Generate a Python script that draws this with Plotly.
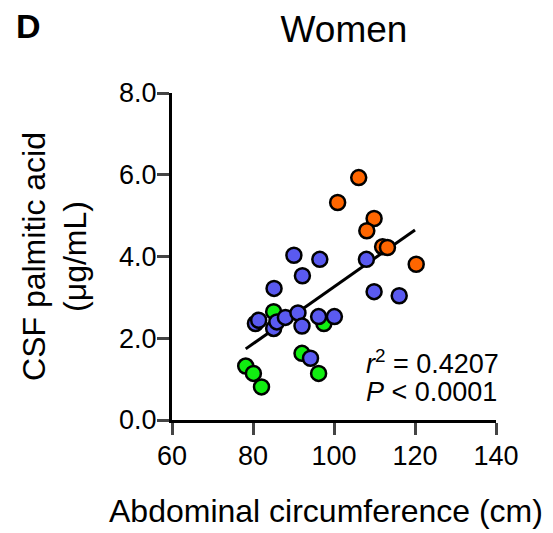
import plotly.graph_objects as go

# abdominal circumference (cm) and CSF palmitic acid (ug/mL), per group
green_x = [78.2, 80.1, 82.1, 85.1, 92.1, 96.2, 97.5]
green_y = [1.32, 1.14, 0.81, 2.65, 1.63, 1.14, 2.36]

blue_x = [80.6, 81.4, 85.1, 85.9, 88.0, 91.1, 92.1, 96.2, 100.1, 94.2,
          85.2, 90.1, 92.2, 96.5, 108.0, 109.9, 116.1]
blue_y = [2.36, 2.44, 2.24, 2.40, 2.51, 2.62, 2.30, 2.53, 2.53, 1.51,
          3.22, 4.03, 3.53, 3.93, 3.93, 3.14, 3.04]

orange_x = [106.1, 100.9, 109.9, 108.1, 112.0, 113.2, 120.3]
orange_y = [5.93, 5.32, 4.93, 4.63, 4.24, 4.22, 3.81]

# regression line end points
fit_x = [78.2, 120.0]
fit_y = [1.74, 4.65]

x_ticks = [60, 80, 100, 120, 140]
y_ticks = [0, 2, 4, 6, 8]

FONT = "Arial, Liberation Sans, sans-serif"
# page body adds 8px at left/top, so the figure is 8px smaller
W, H = 545, 525

fig = go.Figure()
fig.add_trace(go.Scatter(x=fit_x, y=fit_y, mode="lines",
                         line=dict(color="black", width=3)))
for xs, ys, col in [(green_x, green_y, "#11EE11"),
                    (blue_x, blue_y, "#5A5AF0"),
                    (orange_x, orange_y, "#FF6600")]:
    fig.add_trace(go.Scatter(x=xs, y=ys, mode="markers",
                             marker=dict(size=15, color=col,
                                         line=dict(color="black", width=2.5))))

fig.update_layout(
    width=W, height=H,
    margin=dict(l=164, r=57, t=85, b=113),
    plot_bgcolor="white", paper_bgcolor="white",
    showlegend=False,
    font=dict(family=FONT, color="black"),
    title=dict(text="Women", x=336 / W, xanchor="center",
               y=1 - 21 / H, yanchor="middle", yref="container",
               font=dict(size=37)),
    xaxis=dict(range=[60, 140], tickvals=x_ticks, ticks="outside",
               ticklen=12, tickwidth=3, linewidth=3, linecolor="black",
               showgrid=False, zeroline=False, tickfont=dict(size=27),
               ticklabelstandoff=-2),
    yaxis=dict(range=[0, 8], tickvals=y_ticks, tickformat=".1f",
               ticks="outside", ticklen=12, tickwidth=3, linewidth=3,
               linecolor="black", showgrid=False, zeroline=False,
               tickfont=dict(size=27), ticklabelstandoff=-5,
               title=dict(text="CSF palmitic acid<br>(μg/mL)",
                          font=dict(size=32), standoff=23)),
    annotations=[
        dict(text="<b>D</b>", xref="paper", yref="paper",
             x=(14 - 172) / 324, y=(420 - 26) / 327.3,
             xanchor="left", yanchor="middle", showarrow=False,
             font=dict(size=34)),
        dict(text="Abdominal circumference (cm)", xref="paper", yref="paper",
             x=(326 - 172) / 324, y=(420 - 511) / 327.3,
             xanchor="center", yanchor="middle", showarrow=False,
             font=dict(size=32)),
        dict(text="<i>r</i><sup>2</sup> = 0.4207", x=107.4, y=1.42,
             xanchor="left", yanchor="middle", showarrow=False,
             font=dict(size=27)),
        dict(text="<i>P</i> < 0.0001", x=107.4, y=0.68,
             xanchor="left", yanchor="middle", showarrow=False,
             font=dict(size=27)),
    ],
)

fig.write_html("out.html")
